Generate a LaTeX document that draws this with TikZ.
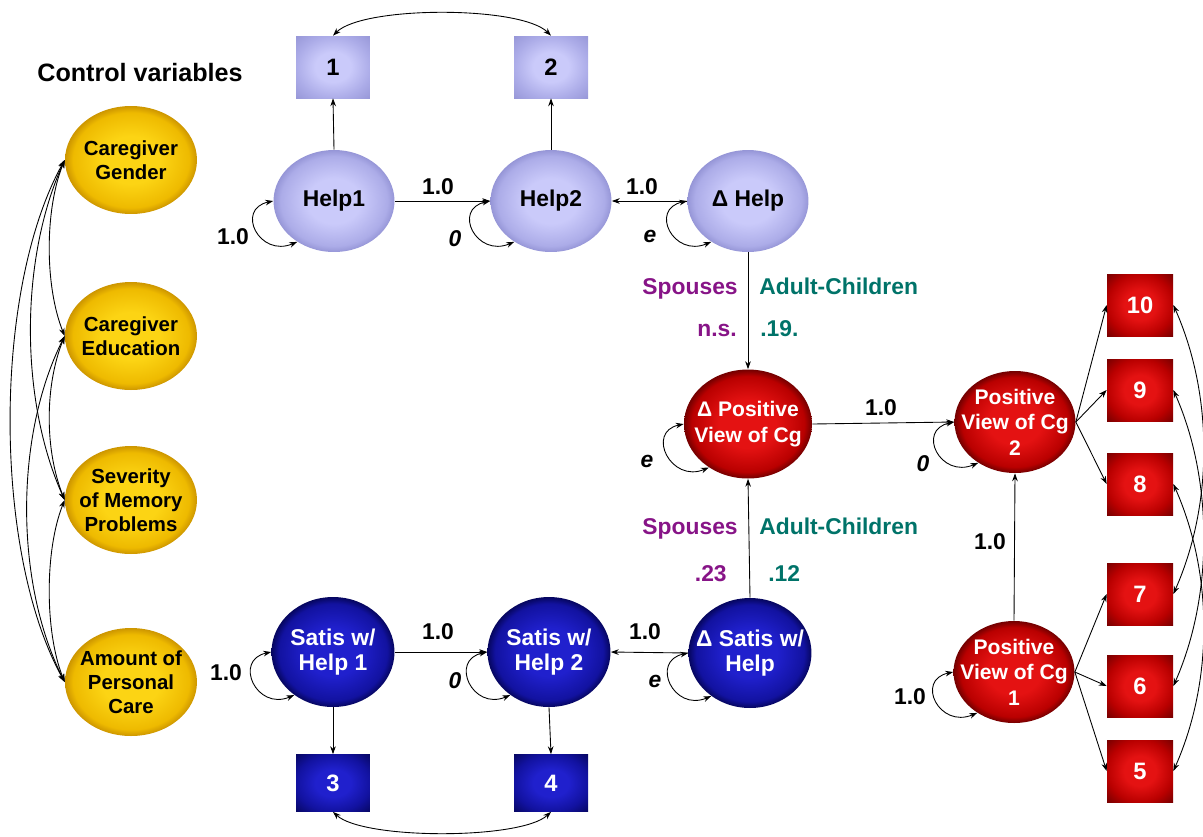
\documentclass[tikz,border=0pt]{standalone}
\usepackage{fontspec}
\setmainfont{Liberation Sans}
\usetikzlibrary{shapes.geometric,arrows.meta}
\definecolor{lavIn}{RGB}{202,202,250}
\definecolor{lavOut}{RGB}{172,172,232}
\definecolor{lavDark}{RGB}{150,150,215}
\definecolor{yelIn}{RGB}{252,212,20}
\definecolor{yelOut}{RGB}{238,186,0}
\definecolor{yelDark}{RGB}{205,150,0}
\definecolor{redIn}{RGB}{228,18,18}
\definecolor{redOut}{RGB}{185,0,0}
\definecolor{redDark}{RGB}{115,0,0}
\definecolor{bluIn}{RGB}{32,32,205}
\definecolor{bluOut}{RGB}{18,18,160}
\definecolor{bluDark}{RGB}{6,6,95}
\definecolor{spou}{RGB}{135,20,135}
\definecolor{adch}{RGB}{0,115,105}
\pgfdeclareradialshading{lavball}{\pgfpoint{0bp}{0bp}}{color(0bp)=(lavIn); color(11bp)=(lavIn); color(22bp)=(lavOut); color(25bp)=(lavDark); color(50bp)=(lavDark)}
\pgfdeclareradialshading{yelball}{\pgfpoint{0bp}{0bp}}{color(0bp)=(yelIn); color(11bp)=(yelIn); color(22bp)=(yelOut); color(25bp)=(yelDark); color(50bp)=(yelDark)}
\pgfdeclareradialshading{redball}{\pgfpoint{0bp}{0bp}}{color(0bp)=(redIn); color(11bp)=(redIn); color(22bp)=(redOut); color(25bp)=(redDark); color(50bp)=(redDark)}
\pgfdeclareradialshading{bluball}{\pgfpoint{0bp}{0bp}}{color(0bp)=(bluIn); color(11bp)=(bluIn); color(22bp)=(bluOut); color(25bp)=(bluDark); color(50bp)=(bluDark)}
\pgfdeclareradialshading{lavsq}{\pgfpoint{0bp}{0bp}}{color(0bp)=(lavIn); color(12bp)=(lavIn); color(25bp)=(lavOut); color(36bp)=(lavDark); color(50bp)=(lavDark)}
\pgfdeclareradialshading{redsq}{\pgfpoint{0bp}{0bp}}{color(0bp)=(redIn); color(12bp)=(redIn); color(25bp)=(redOut); color(36bp)=(redDark); color(50bp)=(redDark)}
\pgfdeclareradialshading{blusq}{\pgfpoint{0bp}{0bp}}{color(0bp)=(bluIn); color(12bp)=(bluIn); color(25bp)=(bluOut); color(36bp)=(bluDark); color(50bp)=(bluDark)}
\begin{document}
\begin{tikzpicture}[x=0.02cm,y=0.02cm,
  >={Stealth[length=4.5pt,width=3.2pt]},
  conn/.style={->,line width=0.5pt},
  dbl/.style={<->,line width=0.5pt},
  txt/.style={font=\fontsize{13}{15}\selectfont\bfseries, anchor=mid, inner sep=0pt},
  itxt/.style={font=\fontsize{13}{15}\selectfont\bfseries\itshape, anchor=mid, inner sep=0pt},
  ctl/.style={font=\fontsize{14.3}{16}\selectfont\bfseries, anchor=mid, inner sep=0pt},
  ntxt/.style={font=\fontsize{13}{14}\selectfont\bfseries, align=center, inner sep=0pt},
  ytxt/.style={font=\fontsize{11.6}{13.6}\selectfont\bfseries, align=center, inner sep=0pt},
  rtxt/.style={font=\fontsize{12}{14.5}\selectfont\bfseries, align=center, inner sep=0pt, text=white},
  btxt/.style={font=\fontsize{13}{13.8}\selectfont\bfseries, align=center, inner sep=0pt, text=white},
  sqtxt/.style={font=\fontsize{13.5}{15}\selectfont\bfseries, inner sep=0pt},
  ell/.style={ellipse, inner sep=0pt, draw=none},
  lavE/.style={ell, shading=lavball, minimum width=2.42cm, minimum height=2.04cm},
  yelE/.style={ell, shading=yelball, minimum width=2.64cm, minimum height=2.16cm},
  redE/.style={ell, shading=redball, minimum width=2.42cm, minimum height=2.04cm},
  bluE/.style={ell, shading=bluball, minimum width=2.46cm, minimum height=2.2cm},
  lavS/.style={rectangle, inner sep=0pt, shading=lavsq, minimum width=1.48cm, minimum height=1.24cm},
  bluS/.style={rectangle, inner sep=0pt, shading=blusq, minimum width=1.48cm, minimum height=1.14cm},
  redS/.style={rectangle, inner sep=0pt, shading=redsq, minimum width=1.32cm, minimum height=1.24cm},
  slf/.style={<->,line width=0.5pt}
]
\useasboundingbox (0,0) rectangle (1203,-836);

\node[ctl] (ctitle) at (140,-77) {Control variables};

% control variables
\node[yelE] (cg) at (131,-160) {};
\node[ytxt] (cgt) at (cg) {Caregiver\\Gender};
\node[yelE] (ce) at (131,-336) {};
\node[ytxt] (cet) at (ce) {Caregiver\\Education};
\node[yelE] (sm) at (131,-500) {};
\node[ytxt] (smt) at (sm) {Severity\\of Memory\\Problems};
\node[yelE] (ap) at (131,-682) {};
\node[ytxt] (apt) at (ap) {Amount of\\Personal\\Care};

\draw[dbl] (cg.west) .. controls +(-72,-130) and +(-72,130) .. (ap.west);
\draw[dbl] (cg.west) .. controls +(-45,-100) and +(-45,100) .. (sm.west);
\draw[dbl] (ce.west) .. controls +(-50,-100) and +(-50,100) .. (ap.west);
\draw[dbl] (cg.west) .. controls +(-20,-50) and +(-20,50) .. (ce.west);
\draw[dbl] (ce.west) .. controls +(-20,-50) and +(-20,50) .. (sm.west);
\draw[dbl] (sm.west) .. controls +(-20,-50) and +(-20,50) .. (ap.west);

% help
\node[lavS] (s1) at (333,-67) {};
\node[sqtxt] (s1t) at (s1) {1};
\node[lavS] (s2) at (551,-67) {};
\node[sqtxt] (s2t) at (s2) {2};
\node[lavE] (h1) at (334,-201) {};
\node[ntxt] (h1t) at (h1) {Help1};
\node[lavE] (h2) at (551,-201) {};
\node[ntxt] (h2t) at (h2) {Help2};
\node[lavE] (dh) at (748,-201) {};
\node[ntxt] (dht) at (dh) {Δ Help};

\draw[conn] (h1.north) -- (s1.south);
\draw[conn] (h2.north) -- (s2.south);
\draw[dbl] (s1.north) .. controls +(30,30) and +(-30,30) .. (s2.north);
\draw[conn] (h1.east) -- (h2.west);
\draw[conn] (dh.west) -- (h2.east);
\draw[slf] (h1.west) .. controls +(-38,-8) and +(-38,-16) .. (h1.228);
\draw[slf] (h2.west) .. controls +(-38,-8) and +(-38,-16) .. (h2.228);
\draw[slf] (dh.west) .. controls +(-38,-8) and +(-38,-16) .. (dh.228);
\node[txt] (l1) at (438,-190) {1.0};
\node[txt] (l2) at (642,-190) {1.0};
\node[txt] (l3) at (233,-240) {1.0};
\node[itxt] (l4) at (455,-242) {0};
\node[itxt] (l5) at (650,-238) {e};

% positive view
\node[redE, minimum width=2.56cm, minimum height=2.18cm] (dpos) at (748,-424) {};
\node[rtxt] (dpost) at (dpos) {Δ Positive\\View of Cg};
\node[redE] (pv2) at (1015,-422) {};
\node[rtxt] (pv2t) at (pv2) {Positive\\View of Cg\\2};
\node[redE] (pv1) at (1014,-672) {};
\node[rtxt] (pv1t) at (pv1) {Positive\\View of Cg\\1};

\node[redS] (s10) at (1140,-305) {};
\node[sqtxt,text=white] (s10t) at (s10) {10};
\node[redS] (s9) at (1140,-390) {};
\node[sqtxt,text=white] (s9t) at (s9) {9};
\node[redS] (s8) at (1140,-484) {};
\node[sqtxt,text=white] (s8t) at (s8) {8};
\node[redS] (s7) at (1140,-594) {};
\node[sqtxt,text=white] (s7t) at (s7) {7};
\node[redS] (s6) at (1140,-686) {};
\node[sqtxt,text=white] (s6t) at (s6) {6};
\node[redS] (s5) at (1140,-771) {};
\node[sqtxt,text=white] (s5t) at (s5) {5};

\draw[conn] (dh.south) -- (dpos.north);
\draw[conn] (dpos.east) -- (pv2.west);
\draw[conn] (pv1.north) -- (pv2.south);
\draw[conn] (pv2.east) -- (s10.west);
\draw[conn] (pv2.east) -- (s9.west);
\draw[conn] (pv2.east) -- (s8.west);
\draw[conn] (pv1.east) -- (s7.west);
\draw[conn] (pv1.east) -- (s6.west);
\draw[conn] (pv1.east) -- (s5.west);
\draw[dbl] (s10.east) .. controls +(40,-90) and +(40,90) .. (s7.east);
\draw[dbl] (s9.east) .. controls +(40,-90) and +(40,90) .. (s6.east);
\draw[dbl] (s8.east) .. controls +(40,-90) and +(40,90) .. (s5.east);
\draw[slf] (dpos.west) .. controls +(-38,-8) and +(-38,-16) .. (dpos.228);
\draw[slf] (pv2.west) .. controls +(-38,-8) and +(-38,-16) .. (pv2.228);
\draw[slf] (pv1.west) .. controls +(-38,-8) and +(-38,-16) .. (pv1.228);
\node[itxt] (l6) at (647,-463) {e};
\node[txt] (l7) at (881,-411) {1.0};
\node[itxt] (l8) at (923,-467) {0};
\node[txt] (l9) at (990,-545) {1.0};
\node[txt] (l10) at (910,-700) {1.0};

\node[txt, text=spou, anchor=mid east] (sp1) at (738,-290) {Spouses};
\node[txt, text=adch, anchor=mid west] (ac1) at (759,-290) {Adult-Children};
\node[txt, text=spou, anchor=mid east] (ns) at (737,-332) {n.s.};
\node[txt, text=adch, anchor=mid west] (v19) at (760,-332) {.19.};
\node[txt, text=spou, anchor=mid east] (sp2) at (738,-530) {Spouses};
\node[txt, text=adch, anchor=mid west] (ac2) at (759,-530) {Adult-Children};
\node[txt, text=spou, anchor=mid east] (v23) at (727,-577) {.23};
\node[txt, text=adch, anchor=mid west] (v12) at (768,-577) {.12};

% satisfaction
\node[bluE] (st1) at (333,-652) {};
\node[btxt] (st1t) at (st1) {Satis w/\\Help 1};
\node[bluE] (st2) at (549,-652) {};
\node[btxt] (st2t) at (st2) {Satis w/\\Help 2};
\node[bluE] (dst) at (750,-653) {};
\node[btxt] (dstt) at (dst) {Δ Satis w/\\Help};
\node[bluS] (s3) at (333,-783) {};
\node[sqtxt,text=white] (s3t) at (s3) {3};
\node[bluS] (s4) at (551,-783) {};
\node[sqtxt,text=white] (s4t) at (s4) {4};

\draw[conn] (dst.north) -- (dpos.south);
\draw[conn] (st1.south) -- (s3.north);
\draw[conn] (st2.south) -- (s4.north);
\draw[dbl] (s3.south) .. controls +(30,-28) and +(-30,-28) .. (s4.south);
\draw[conn] (st1.east) -- (st2.west);
\draw[conn] (dst.west) -- (st2.east);
\draw[slf] (st1.west) .. controls +(-38,-8) and +(-38,-16) .. (st1.228);
\draw[slf] (st2.west) .. controls +(-38,-8) and +(-38,-16) .. (st2.228);
\draw[slf] (dst.west) .. controls +(-38,-8) and +(-38,-16) .. (dst.228);
\node[txt] (l11) at (438,-635) {1.0};
\node[txt] (l12) at (645,-635) {1.0};
\node[txt] (l13) at (226,-676) {1.0};
\node[itxt] (l14) at (455,-684) {0};
\node[itxt] (l15) at (655,-683) {e};
\end{tikzpicture}
\end{document}
